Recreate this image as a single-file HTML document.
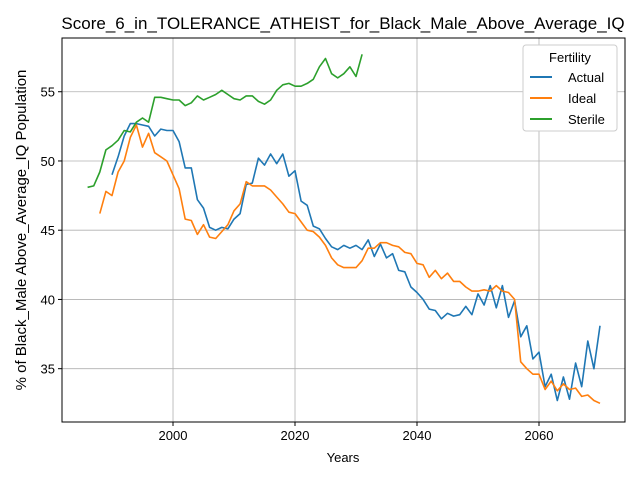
<!DOCTYPE html>
<html><head><meta charset="utf-8"><style>
body{margin:0;background:#fff;font-family:"Liberation Sans",sans-serif}
svg text{font-family:"Liberation Sans",sans-serif;fill:#000}
</style></head><body>
<svg id="chart" width="640" height="480">
<text x="343" y="29" font-size="17" text-anchor="middle">Score_6_in_TOLERANCE_ATHEIST_for_Black_Male_Above_Average_IQ</text>
<g id="grid"></g><g id="series"></g><g id="axes"></g>
<text x="343" y="462" font-size="13" text-anchor="middle">Years</text>
<text transform="translate(26,230) rotate(-90)" font-size="15" text-anchor="middle">% of Black_Male Above_Average_IQ Population</text>
<g>
<rect x="523" y="45" width="94" height="86" rx="3" fill="#fff" stroke="#ccc"/>
<text x="570" y="62" font-size="13" text-anchor="middle">Fertility</text>
<line x1="530" y1="77" x2="552" y2="77" stroke="#1f77b4" stroke-width="2"/><text x="568" y="82" font-size="13">Actual</text>
<line x1="530" y1="98" x2="552" y2="98" stroke="#ff7f0e" stroke-width="2"/><text x="568" y="103" font-size="13">Ideal</text>
<line x1="530" y1="119" x2="552" y2="119" stroke="#2ca02c" stroke-width="2"/><text x="568" y="124" font-size="13">Sterile</text>
</g>
</svg>
<script>
const actualStart=1990;
const actual=[49.0,50.3,51.8,52.7,52.7,52.6,52.5,51.8,52.3,52.2,52.2,51.4,49.5,49.5,47.2,46.6,45.2,45.0,45.2,45.1,45.8,46.2,48.3,48.4,50.2,49.7,50.5,49.8,50.5,48.9,49.3,47.1,46.8,45.3,45.1,44.4,43.8,43.6,43.9,43.7,43.9,43.6,44.3,43.1,44.0,43.0,43.3,42.1,42.0,40.9,40.5,40.0,39.3,39.2,38.6,39.0,38.8,38.9,39.5,38.9,40.4,39.6,41.0,39.4,41.0,38.7,39.9,37.3,38.1,35.7,36.2,33.7,34.6,32.7,34.4,32.8,35.4,33.7,37.0,35.0,38.1];
const idealStart=1988;
const ideal=[46.2,47.8,47.5,49.2,50.0,51.7,52.6,51.0,52.0,50.6,50.3,50.0,49.0,48.0,45.8,45.7,44.7,45.4,44.5,44.4,44.9,45.4,46.4,46.9,48.5,48.2,48.2,48.2,47.9,47.4,46.9,46.3,46.2,45.6,45.0,44.9,44.5,43.9,43.0,42.5,42.3,42.3,42.3,42.8,43.7,43.7,44.1,44.1,43.9,43.8,43.4,43.3,42.6,42.5,41.6,42.1,41.5,41.9,41.3,41.3,40.9,40.6,40.6,40.7,40.6,41.0,40.6,40.5,40.0,35.5,35.0,34.6,34.6,33.5,34.1,33.4,33.9,33.5,33.6,33.0,33.1,32.7,32.5];
const sterileStart=1986;
const sterile=[48.1,48.2,49.2,50.8,51.1,51.5,52.2,52.1,52.8,53.1,52.8,54.6,54.6,54.5,54.4,54.4,54.0,54.2,54.7,54.4,54.6,54.8,55.1,54.8,54.5,54.4,54.7,54.7,54.3,54.1,54.4,55.1,55.5,55.6,55.4,55.4,55.6,55.9,56.8,57.4,56.3,56.0,56.3,56.8,56.1,57.7];
const xTicks=[2000,2020,2040,2060];
const yTicks=[35,40,45,50,55];
const L=62,R=625,T=38,B=422,xMin=1981.8,xMax=2074.1,yMin=31.15,yMax=58.88;
const X=v=>L+(v-xMin)/(xMax-xMin)*(R-L);
const Y=v=>B-(v-yMin)/(yMax-yMin)*(B-T);
const NS="http://www.w3.org/2000/svg";
function mk(t,a,p){const e=document.createElementNS(NS,t);for(const k in a)e.setAttribute(k,a[k]);p.appendChild(e);return e;}
const grid=document.getElementById('grid'),axes=document.getElementById('axes'),ser=document.getElementById('series');
xTicks.forEach(t=>{
 const g=mk('line',{x1:X(t),x2:X(t),y1:T,y2:B,stroke:'#b0b0b0','stroke-width':0.8},grid);
 
 
 mk('line',{x1:X(t),x2:X(t),y1:B,y2:B+4,stroke:'#000'},axes);
 const tx=mk('text',{x:X(t),y:B+18,'font-size':13,'text-anchor':'middle'},axes);tx.textContent=t;
 
 
});
yTicks.forEach(t=>{
 const g=mk('line',{x1:L,x2:R,y1:Y(t),y2:Y(t),stroke:'#b0b0b0','stroke-width':0.8},grid);
 
 
 mk('line',{x1:L-4,x2:L,y1:Y(t),y2:Y(t),stroke:'#000'},axes);
 const tx=mk('text',{x:L-7,y:Y(t)+5,'font-size':13,'text-anchor':'end'},axes);tx.textContent=t;
 
 
});
const frame=mk('rect',{x:L,y:T,width:R-L,height:B-T,fill:'none',stroke:'#000','stroke-width':1},axes);


function line(vals,start,color,name){
 const pts=vals.map((v,i)=>X(start+i).toFixed(1)+','+Y(v).toFixed(1)).join(' ');
 const p=mk('polyline',{points:pts,fill:'none',stroke:color,'stroke-width':1.6,'stroke-linejoin':'round'},ser);
 
 
}
line(actual,actualStart,'#1f77b4','actual-line');
line(ideal,idealStart,'#ff7f0e','ideal-line');
line(sterile,sterileStart,'#2ca02c','sterile-line');
</script>
</body></html>
